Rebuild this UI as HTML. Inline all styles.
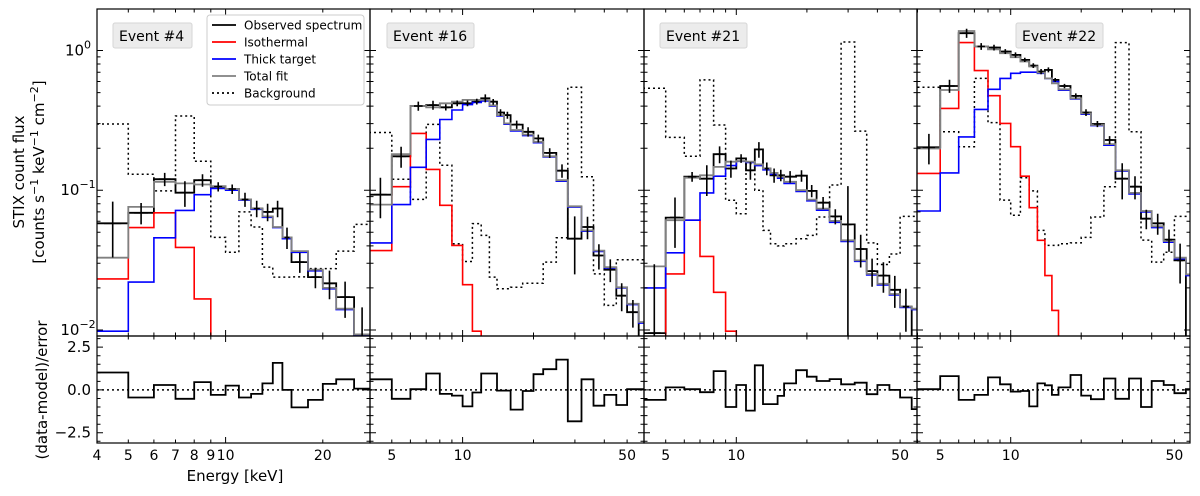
<!DOCTYPE html>
<html><head><meta charset="utf-8"><style>
html,body{margin:0;padding:0;background:#fff;width:1200px;height:496px;overflow:hidden;}
svg{display:block;font-family:"DejaVu Sans","Liberation Sans",sans-serif;}
</style></head><body>
<svg id="chart" width="1200" height="496" viewBox="0 0 1200 496" xmlns="http://www.w3.org/2000/svg">
<text transform="translate(24,172) rotate(-90)" text-anchor="middle" font-size="15">STIX count flux</text>
<text transform="translate(44,172) rotate(-90)" text-anchor="middle" font-size="15">[counts s<tspan dy="-6" font-size="11">−1</tspan><tspan dy="6"> keV</tspan><tspan dy="-6" font-size="11">−1</tspan><tspan dy="6"> cm</tspan><tspan dy="-6" font-size="11">−2</tspan><tspan dy="6">]</tspan></text>
<text transform="translate(47,390) rotate(-90)" text-anchor="middle" font-size="15">(data-model)/error</text>
<text x="235" y="481" text-anchor="middle" font-size="15">Energy [keV]</text>
<g id="plots"></g>
</svg>
<script>
// ---- data ----
const edgesA = [4,5,6,7,8,9,10,11,12,13,14,15,16,18,20,22,25,28];
const edgesB = [4,5,6,7,8,9,10,11,12,13,14,15,16,18,20,22,25,28,32,36,40,45,50,56,63];
const eventNames = ["Event #4","Event #16","Event #21","Event #22"];

const obs1 = [0.058,0.069,0.12,0.096,0.118,0.106,0.102,0.086,0.074,0.070,0.074,0.046,0.0306,0.0239,0.0216,0.0172,0.0085];
const err1 = [0.025,0.012,0.013,0.02,0.012,0.008,0.008,0.01,0.01,0.01,0.01,0.008,0.005,0.004,0.005,0.005,0.006];
const red1 = [0.0232,0.054,0.069,0.039,0.0167,0.001,0.001,0.001,0.001,0.001,0.001,0.001,0.001,0.001,0.001,0.001,0.001];
const blue1 = [0.0098,0.022,0.0457,0.0718,0.093,0.103,0.1,0.085,0.073,0.064,0.054,0.045,0.036,0.0265,0.0197,0.014,0.0092];
const total1 = [0.0329,0.076,0.115,0.112,0.110,0.107,0.102,0.086,0.074,0.065,0.0546,0.046,0.0367,0.027,0.020,0.0142,0.0093];
const bg1 = [0.298,0.130,0.099,0.34,0.161,0.046,0.036,0.070,0.0546,0.0282,0.0239,0.0239,0.024,0.0275,0.0275,0.0367,0.057];
const res1 = [1.02,-0.44,0.29,-0.52,0.46,-0.29,0.25,-0.44,-0.23,0.38,1.58,0,-1.02,-0.58,0.35,0.62,0.08];

const obs2 = [0.093,0.175,0.401,0.407,0.392,0.419,0.419,0.431,0.455,0.43,0.36,0.345,0.295,0.262,0.235,0.185,0.138,0.045,0.0546,0.0341,0.027,0.0176,0.0134,0.0085];
const err2 = [0.03,0.03,0.03,0.03,0.02,0.02,0.02,0.02,0.03,0.02,0.02,0.02,0.02,0.02,0.015,0.015,0.015,0.02,0.01,0.007,0.005,0.004,0.003,0.003];
const red2 = [0.037,0.106,0.255,0.141,0.078,0.0403,0.0211,0.0098,0.001,0.001,0.001,0.001,0.001,0.001,0.001,0.001,0.001,0.001,0.001,0.001,0.001,0.001,0.001,0.001];
const blue2 = [0.042,0.079,0.146,0.231,0.321,0.375,0.41,0.425,0.435,0.4,0.34,0.297,0.266,0.246,0.219,0.173,0.116,0.0757,0.0509,0.0365,0.0278,0.02,0.0152,0.0112];
const total2 = [0.079,0.181,0.401,0.392,0.419,0.431,0.443,0.443,0.443,0.405,0.345,0.301,0.27,0.25,0.222,0.175,0.118,0.0768,0.0516,0.037,0.0282,0.0202,0.0154,0.0114];
const bg2 = [0.259,0.12,0.086,0.296,0.151,0.0414,0.0309,0.0577,0.0475,0.0239,0.0197,0.0197,0.0202,0.0216,0.0216,0.0306,0.0457,0.545,0.125,0.0252,0.015,0.0318,0.0318,0.0318];
const res2 = [0.62,-0.52,0.04,0.96,-0.23,-0.33,-0.96,-0.15,0.96,0.96,-0.04,-0.04,-1.15,-0.06,0.92,1.21,1.77,-1.83,0.62,-0.92,-0.29,-0.88,0.04,0.04];

const obs3 = [0.0095,0.0637,0.125,0.121,0.181,0.143,0.169,0.139,0.196,0.143,0.128,0.128,0.125,0.127,0.099,0.0815,0.065,0.057,0.038,0.0264,0.0245,0.0194,0.0147,0.008];
const err3 = [0.02,0.025,0.01,0.03,0.025,0.02,0.012,0.02,0.025,0.015,0.015,0.012,0.012,0.012,0.01,0.008,0.008,0.05,0.01,0.006,0.006,0.005,0.005,0.006];
const red3 = [0.001,0.0252,0.061,0.0336,0.0186,0.0098,0.001,0.001,0.001,0.001,0.001,0.001,0.001,0.001,0.001,0.001,0.001,0.001,0.001,0.001,0.001,0.001,0.001,0.001];
const blue3 = [0.020,0.0357,0.061,0.0957,0.126,0.150,0.161,0.158,0.15,0.14,0.13,0.122,0.112,0.098,0.084,0.072,0.059,0.043,0.031,0.0248,0.021,0.0178,0.0145,0.014];
const total3 = [0.0285,0.061,0.123,0.128,0.147,0.160,0.162,0.160,0.153,0.143,0.133,0.125,0.115,0.100,0.0857,0.0738,0.0603,0.0438,0.0315,0.0252,0.0214,0.0181,0.0147,0.0142];
const bg3 = [0.537,0.239,0.175,0.616,0.293,0.0848,0.068,0.155,0.100,0.0516,0.0414,0.040,0.0414,0.045,0.0475,0.0644,0.109,1.15,0.265,0.042,0.0294,0.035,0.065,0.065];
const res3 = [-0.58,0.15,0.04,-0.13,1.1,-1.0,0.29,-1.21,1.44,-0.83,-0.83,-0.35,0.38,1.15,0.77,0.52,0.63,0.33,0.42,-0.25,0.29,0,-0.44,-1.12];

const obs4 = [0.203,0.557,1.33,1.07,1.05,0.984,0.93,0.857,0.78,0.707,0.727,0.616,0.557,0.473,0.36,0.298,0.229,0.121,0.106,0.0626,0.058,0.0443,0.0315,0.009];
const err4 = [0.05,0.06,0.1,0.06,0.05,0.04,0.04,0.03,0.03,0.03,0.03,0.02,0.02,0.02,0.02,0.015,0.015,0.035,0.02,0.01,0.01,0.008,0.01,0.01];
const red4 = [0.132,0.385,1.14,0.718,0.475,0.301,0.205,0.126,0.075,0.0438,0.0245,0.0138,0.001,0.001,0.001,0.001,0.001,0.001,0.001,0.001,0.001,0.001,0.001,0.001];
const blue4 = [0.071,0.133,0.241,0.379,0.528,0.632,0.687,0.70,0.70,0.687,0.632,0.60,0.52,0.45,0.35,0.29,0.21,0.137,0.094,0.07,0.054,0.0425,0.0323,0.0245];
const total4 = [0.199,0.522,1.38,1.07,1.02,0.957,0.896,0.834,0.768,0.695,0.632,0.583,0.528,0.455,0.355,0.293,0.214,0.139,0.0957,0.071,0.0552,0.0433,0.0329,0.025];
const bg4 = [0.545,0.262,0.205,0.632,0.305,0.085,0.0662,0.123,0.099,0.0516,0.0403,0.0403,0.0414,0.042,0.046,0.0644,0.106,1.14,0.262,0.044,0.0306,0.036,0.065,0.065];
const res4 = [0.04,0.81,-0.58,-0.29,0.73,0.33,-0.1,-0.06,-0.96,0.38,0.27,-0.29,0.15,0.87,-0.33,-0.54,0.67,-0.52,0.67,-1.0,0.52,0.29,-0.19,0.04];

const xTickLabelsA = [4,5,6,7,8,9,10,20];
const xTickLabelsB = [5,10,50];
const yDecades = [0,-1,-2];
const resTicks = [2.5,0,-2.5];

// ---- layout ----
const NS = "http://www.w3.org/2000/svg";
const root = document.getElementById('plots');
const MT = 9, MB = 336, RT = 336, RB = 443;
const YL0 = -2.043, YL1 = 0.297;
const RY0 = -3.1, RY1 = 3.15;
const panels = [
 {x0:97, x1:370, xl:[4,28], edges:edgesA, obs:obs1, err:err1, red:red1, blue:blue1, total:total1, bg:bg1, res:res1, labels:xTickLabelsA, box:[113,23,79]},
 {x0:370, x1:644, xl:[4.04,59], edges:edgesB, obs:obs2, err:err2, red:red2, blue:blue2, total:total2, bg:bg2, res:res2, labels:xTickLabelsB, box:[387,23,87]},
 {x0:644, x1:917, xl:[4.04,59], edges:edgesB, obs:obs3, err:err3, red:red3, blue:blue3, total:total3, bg:bg3, res:res3, labels:xTickLabelsB, box:[660,23,87]},
 {x0:917, x1:1190, xl:[3.98,58.3], edges:edgesB, obs:obs4, err:err4, red:red4, blue:blue4, total:total4, bg:bg4, res:res4, labels:xTickLabelsB, box:[1016,23,87]}
];
function mk(tag, attrs, parent){
  const e = document.createElementNS(NS, tag);
  for (const k in attrs) e.setAttribute(k, attrs[k]);
  (parent||root).appendChild(e);
  return e;
}
function yMain(v){ const l = Math.log10(Math.max(v,1e-4)); return MT + (YL1 - l)/(YL1-YL0)*(MB-MT); }
function yRes(v){ return RT + (RY1 - v)/(RY1-RY0)*(RB-RT); }

panels.forEach((p, pi) => {
  const lx0 = Math.log10(p.xl[0]), lx1 = Math.log10(p.xl[1]);
  const xs = e => p.x0 + (Math.log10(e)-lx0)/(lx1-lx0)*(p.x1-p.x0);
  const g = mk('g', {});
  
  
  const cid = 'clipm'+pi, rid = 'clipr'+pi;
  const defs = mk('defs', {}, g);
  const c1 = mk('clipPath', {id:cid}, defs); mk('rect', {x:p.x0, y:MT, width:p.x1-p.x0, height:MB-MT}, c1);
  const c2 = mk('clipPath', {id:rid}, defs); mk('rect', {x:p.x0, y:RT, width:p.x1-p.x0, height:RB-RT}, c2);

  function stepPath(vals, yf){
    let d = '';
    for (let i=0;i<vals.length;i++){
      const xa = xs(p.edges[i]), xb = xs(p.edges[i+1]), y = yf(vals[i]);
      d += (i===0 ? 'M'+xa.toFixed(1)+','+y.toFixed(1) : 'L'+xa.toFixed(1)+','+y.toFixed(1)) + 'L'+xb.toFixed(1)+','+y.toFixed(1);
    }
    return d;
  }
  const mg = mk('g', {'clip-path':'url(#'+cid+')'}, g);
  const series = [
    ['background-line', p.bg, '#000', '1.5', '2,3'],
    ['observed-spectrum-line', p.obs, '#000', '1.8', ''],
    ['isothermal-line', p.red, '#ff0000', '1.6', ''],
    ['thick-target-line', p.blue, '#0000ff', '1.6', ''],
    ['total-fit-line', p.total, '#808080', '1.8', '']
  ];
  series.forEach(s => {
    const el = mk('path', {d: stepPath(s[1], yMain), fill:'none', stroke:s[2], 'stroke-width':s[3], 'stroke-dasharray':s[4]||'none'}, mg);
    
    
  });
  p.obs.forEach((v,i) => {
    const xa = xs(p.edges[i]), xb = xs(p.edges[i+1]);
    const xc = xs(Math.sqrt(p.edges[i]*p.edges[i+1]));
    const yl = yMain(Math.max(v - p.err[i], 1e-4)), yh = yMain(v + p.err[i]);
    const e = mk('path', {d:'M'+xc.toFixed(1)+','+yl.toFixed(1)+'V'+yh.toFixed(1)+'M'+(xc-(xc-xa)*0.55).toFixed(1)+','+yMain(v).toFixed(1)+'H'+(xc+(xb-xc)*0.55).toFixed(1), stroke:'#000', 'stroke-width':'1.6', fill:'none'}, mg);
    
    
  });
  const rg = mk('g', {'clip-path':'url(#'+rid+')'}, g);
  const zl = mk('line', {x1:p.x0, x2:p.x1, y1:yRes(0), y2:yRes(0), stroke:'#000', 'stroke-width':'1.5', 'stroke-dasharray':'2,3'}, rg);
  
  
  const rl = mk('path', {d: stepPath(p.res, yRes), fill:'none', stroke:'#000', 'stroke-width':'1.8'}, rg);
  
  

  [[MT,MB],[RT,RB]].forEach((r,ri) => {
    const f = mk('rect', {x:p.x0, y:r[0], width:p.x1-p.x0, height:r[1]-r[0], fill:'none', stroke:'#000', 'stroke-width':'1.2'}, g);
    
    
  });
  let tk = '';
  for (let dec = 1; dec <= 10; dec *= 10){
    for (let m = 1; m <= 9; m++){
      const e = m*dec;
      if (e < p.xl[0] || e > p.xl[1]) continue;
      const x = xs(e).toFixed(1), L = (m===1) ? 6 : 3.5;
      tk += 'M'+x+','+MT+'v'+L+'M'+x+','+MB+'v'+(-L)+'M'+x+','+RT+'v'+L+'M'+x+','+RB+'v'+(-L);
    }
  }
  for (let d = -3; d <= 0; d++){
    for (let m = 1; m <= 9; m++){
      const v = m*Math.pow(10,d);
      const l = Math.log10(v);
      if (l < YL0 || l > YL1) continue;
      const y = yMain(v).toFixed(1), L = (m===1) ? 6 : 3.5;
      tk += 'M'+p.x0+','+y+'h'+L+'M'+p.x1+','+y+'h'+(-L);
    }
  }
  for (let v = -3; v <= 3.01; v += 0.5){
    const y = yRes(v).toFixed(1), L = (Math.abs(v % 2.5) < 0.01) ? 6 : 3.5;
    tk += 'M'+p.x0+','+y+'h'+L+'M'+p.x1+','+y+'h'+(-L);
  }
  const tp = mk('path', {d:tk, stroke:'#000', 'stroke-width':'1', fill:'none'}, g);
  
  
  p.labels.forEach(v => {
    const t = mk('text', {x:xs(v).toFixed(1), y:460, 'text-anchor':'middle', 'font-size':'14'}, g);
    t.textContent = v;
    
    
  });
  const bx = mk('rect', {x:p.box[0], y:p.box[1], width:p.box[2], height:25, fill:'#ececec', stroke:'#d6d6d6', 'stroke-width':'1', rx:'2'}, g);
  
  
  const bt = mk('text', {x:p.box[0]+6, y:p.box[1]+18, 'font-size':'14'}, g);
  bt.textContent = eventNames[pi];
  
  
});

yDecades.forEach(d => {
  const t = mk('text', {x:78, y:(yMain(Math.pow(10,d))+5).toFixed(1), 'text-anchor':'middle', 'font-size':'15'});
  
  
  t.innerHTML = '10<tspan dy="-7" font-size="11">' + (d===0 ? '0' : '−'+(-d)) + '</tspan>';
});
resTicks.forEach(v => {
  const t = mk('text', {x:91, y:(yRes(v)+5).toFixed(1), 'text-anchor':'end', 'font-size':'15'});
  t.textContent = (v<0 ? '−' : '') + Math.abs(v).toFixed(1);
  
  
});

const lg = mk('g', {});


mk('rect', {x:207, y:15, width:157, height:90, fill:'#fff', stroke:'#cccccc', rx:'3'}, lg);
const legendItems = [['Observed spectrum','#000',''],['Isothermal','#ff0000',''],['Thick target','#0000ff',''],['Total fit','#808080',''],['Background','#000','2,3']];
legendItems.forEach((it,i) => {
  const y = 25 + i*17;
  const ln = mk('line', {x1:212, x2:236, y1:y, y2:y, stroke:it[1], 'stroke-width':'1.8', 'stroke-dasharray':it[2]||'none'}, lg);
  
  
  const t = mk('text', {x:244, y:y+4.5, 'font-size':'12'}, lg);
  t.textContent = it[0];
  
  
});
</script>
</body></html>
